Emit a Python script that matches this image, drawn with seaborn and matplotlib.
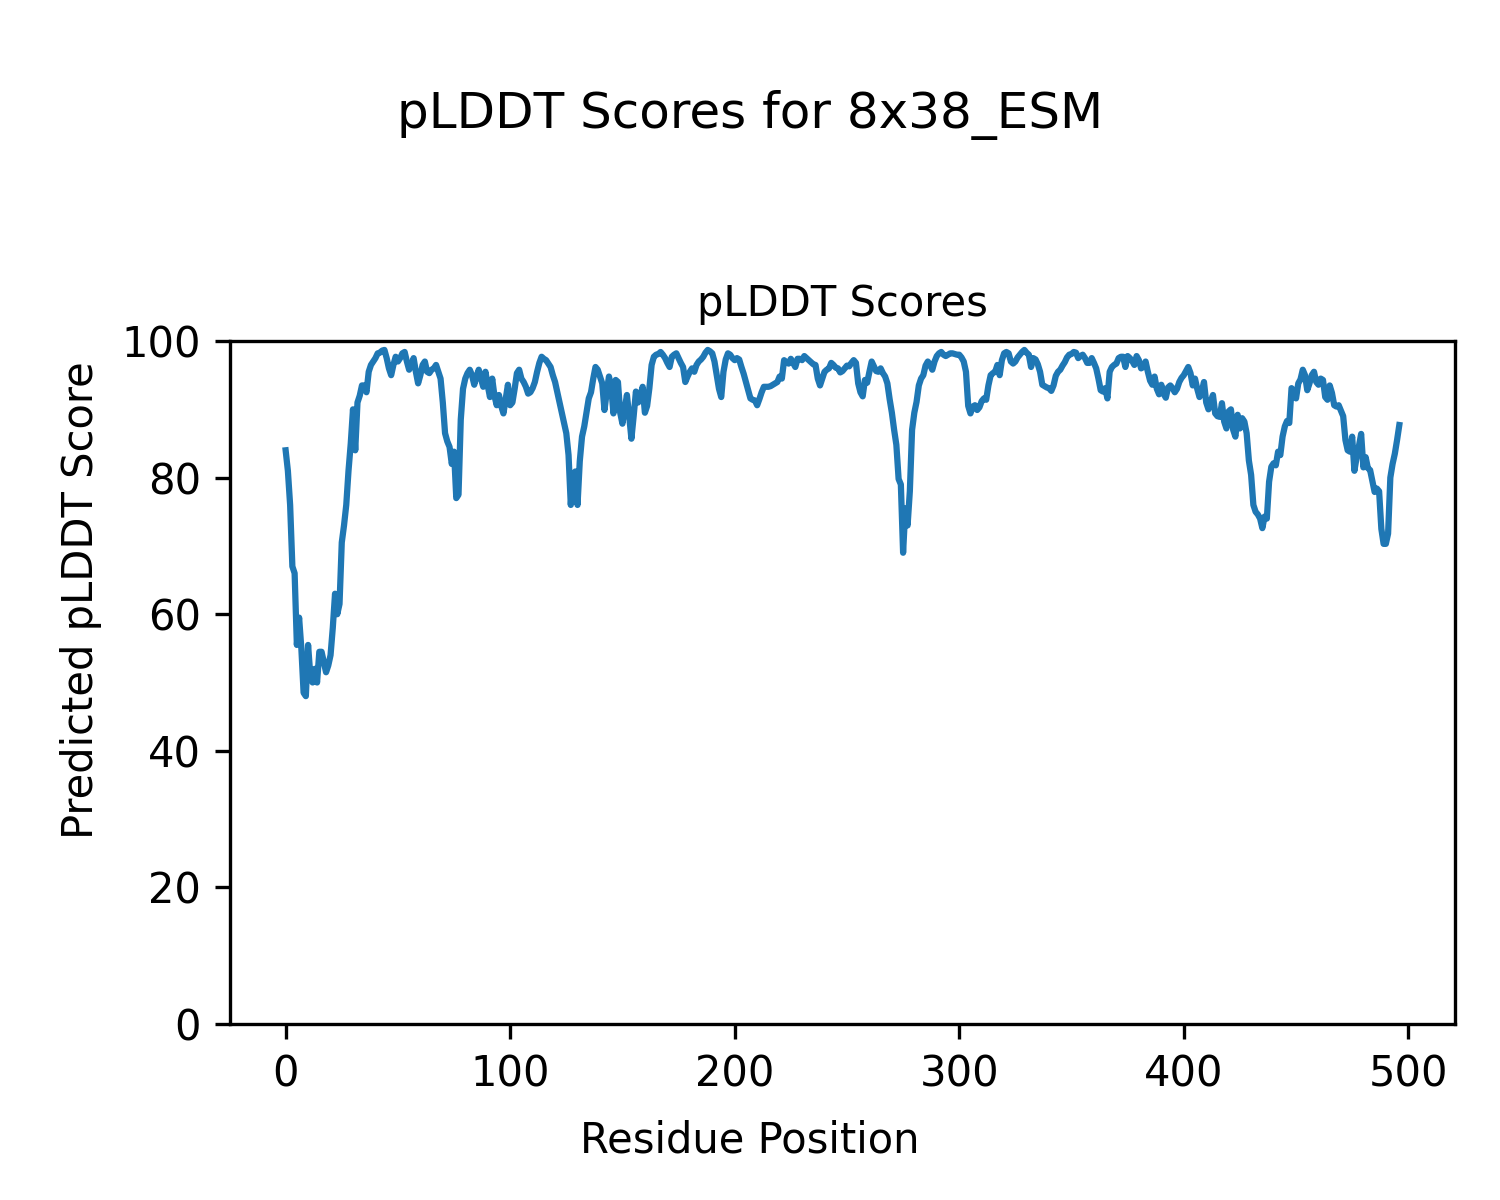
import numpy as np
import pandas as pd
import matplotlib
matplotlib.use("Agg")
import matplotlib.pyplot as plt
import seaborn as sns

# =========================
# DATA
# =========================

protein_name = "8x38_ESM"

plddt_scores = [
    84.0, 81.0, 76.0, 67.0, 66.0, 55.5, 59.5, 55.0, 48.5, 48.0,
    55.5, 51.0, 50.0, 52.0, 50.0, 54.5, 54.5, 53.0, 51.5, 52.5,
    54.0, 58.0, 63.0, 60.0, 61.5, 70.5, 73.0, 76.0, 81.0, 85.0,
    90.0, 84.0, 91.0, 92.0, 93.5, 93.5, 92.5, 95.5, 96.5, 97.0,
    97.5, 98.2, 98.3, 98.6, 98.7, 97.5, 96.0, 95.0, 96.5, 97.7,
    97.0, 97.5, 98.2, 98.4, 97.0, 95.8, 96.5, 97.5, 95.5, 93.8,
    95.0, 96.5, 97.0, 95.5, 95.3, 95.8, 96.0, 96.5, 95.5, 94.5,
    91.0, 86.5, 85.3, 84.5, 82.0, 83.8, 77.0, 77.5, 88.5, 93.0,
    94.5, 95.3, 95.8, 95.0, 93.6, 94.8, 95.8, 94.5, 93.3, 95.5,
    93.5, 91.8, 94.5, 92.0, 90.6, 92.1, 90.5, 89.4, 91.5, 93.6,
    90.6, 91.0, 93.0, 95.3, 95.8, 94.5, 94.0, 93.3, 92.3, 92.5,
    93.1, 94.0, 95.5, 96.8, 97.7, 97.4, 97.2, 96.7, 96.2, 95.0,
    94.0, 92.5, 91.0, 89.5, 88.0, 86.5, 83.3, 76.0, 80.4, 80.9,
    76.0, 82.4, 86.0, 87.5, 89.5, 91.6, 92.5, 94.5, 96.2, 95.8,
    94.8, 93.8, 89.9, 92.5, 94.8, 93.3, 89.4, 94.3, 94.0, 89.5,
    87.9, 90.0, 92.1, 89.0, 85.7, 89.0, 92.6, 91.0, 92.0, 93.3,
    89.5, 90.5, 93.1, 96.5, 97.7, 98.0, 98.1, 98.4, 98.0, 97.5,
    96.8, 96.2, 97.7, 98.0, 98.2, 97.5, 96.8, 96.2, 94.0, 94.8,
    95.5, 96.0, 95.5, 96.5, 97.0, 97.3, 97.7, 98.3, 98.7, 98.5,
    98.2, 97.0, 95.0, 93.0, 91.8, 95.5, 97.3, 98.2, 98.0, 97.5,
    97.2, 97.5, 97.3, 96.2, 95.2, 94.0, 92.8, 91.6, 91.4, 91.3,
    90.6, 91.5, 92.5, 93.3, 93.3, 93.3, 93.4, 93.6, 93.8, 94.0,
    94.8, 94.5, 97.2, 96.9, 96.7, 97.4, 96.8, 96.2, 97.4, 97.4,
    97.2, 97.8, 97.5, 97.2, 96.9, 96.6, 96.5, 94.5, 93.5, 94.5,
    95.5, 95.8, 96.0, 96.8, 96.5, 96.1, 96.0, 95.4, 95.6, 96.0,
    96.4, 96.3, 96.8, 97.2, 96.8, 93.8, 92.5, 91.9, 94.3, 93.9,
    95.5, 97.0, 96.3, 95.6, 95.5, 96.0, 95.3, 94.8, 93.8, 91.5,
    89.5, 87.0, 84.8, 79.8, 79.0, 69.0, 75.5, 73.0, 78.0, 87.0,
    89.5, 91.1, 93.5, 94.5, 95.0, 96.4, 97.0, 96.5, 95.8, 97.0,
    97.8, 98.2, 98.4, 98.0, 97.8, 98.0, 98.2, 98.2, 98.1, 98.0,
    98.0, 97.6, 97.0, 95.5, 90.5, 89.4, 90.4, 90.6, 89.9, 90.3,
    91.2, 91.6, 91.4, 93.5, 95.0, 95.3, 95.5, 96.5, 95.0, 97.2,
    98.2, 98.4, 98.2, 97.0, 96.7, 97.0, 97.6, 98.0, 98.4, 98.7,
    98.3, 98.0, 96.2, 97.5, 97.3, 96.6, 95.5, 93.6, 93.4, 93.2,
    93.1, 92.7, 93.5, 94.9, 95.5, 95.8, 96.4, 96.9, 97.6, 98.0,
    98.1, 98.4, 98.3, 97.5, 97.8, 98.0, 97.5, 96.8, 96.8, 97.5,
    96.8, 96.0, 94.5, 92.8, 92.6, 93.1, 91.6, 95.5, 96.2, 96.5,
    96.7, 97.5, 97.7, 97.7, 96.2, 97.8, 97.5, 97.1, 96.5, 97.8,
    97.2, 96.0, 96.2, 97.0, 95.5, 94.2, 93.6, 94.8, 93.0, 92.2,
    93.6, 92.3, 91.7, 93.2, 93.5, 93.1, 92.5, 93.0, 94.0, 94.6,
    95.0, 95.6, 96.2, 95.3, 93.5, 94.5, 93.0, 91.8, 92.6, 94.0,
    91.0, 90.0, 91.1, 92.1, 89.4, 89.0, 88.9, 90.9, 88.2, 87.2,
    89.7, 90.0, 87.0, 86.0, 89.2, 87.2, 88.7, 88.2, 86.5, 82.5,
    80.4, 76.0, 75.0, 74.6, 74.0, 72.6, 74.3, 74.0, 79.4, 81.6,
    82.1, 81.8, 83.8, 83.3, 86.0, 87.5, 88.3, 88.0, 93.1, 92.7,
    91.6, 93.8, 94.4, 95.8, 95.0, 92.8, 93.8, 95.0, 95.5, 94.0,
    93.6, 94.5, 94.3, 91.8, 91.4, 93.5, 92.4, 90.6, 90.4, 90.6,
    89.8, 89.0, 85.5, 84.0, 83.8, 86.0, 81.0, 83.0, 84.6, 86.4,
    81.5, 83.0, 81.4, 81.1, 79.5, 77.9, 78.4, 78.0, 72.5, 70.3,
    70.3, 71.8, 80.0, 82.0, 83.5, 85.5, 87.7,
]

residue_positions = np.arange(len(plddt_scores))

df = pd.DataFrame({
    "residue": residue_positions,
    "plddt": plddt_scores,
})

# =========================
# PLOT
# =========================

fig = plt.figure(figsize=(5, 4), dpi=300)
ax = fig.add_axes([0.1533, 0.1467, 0.8167, 0.5691])

sns.lineplot(
    x="residue",
    y="plddt",
    data=df,
    ax=ax,
    color="#1f77b4",
    linewidth=1.5
)

ax.set_ylim(0, 100)
ax.set_title("pLDDT Scores", fontsize=10)
ax.set_xlabel("")
ax.set_ylabel("")

# figure-level labels (centred on the figure, not the axes)
fig.supxlabel("Residue Position", fontsize=10, y=0.032)
fig.supylabel("Predicted pLDDT Score", fontsize=10, x=0.04)
fig.suptitle("pLDDT Scores for " + protein_name, fontsize=12, y=0.925)

plt.savefig("out.png", dpi=300)
